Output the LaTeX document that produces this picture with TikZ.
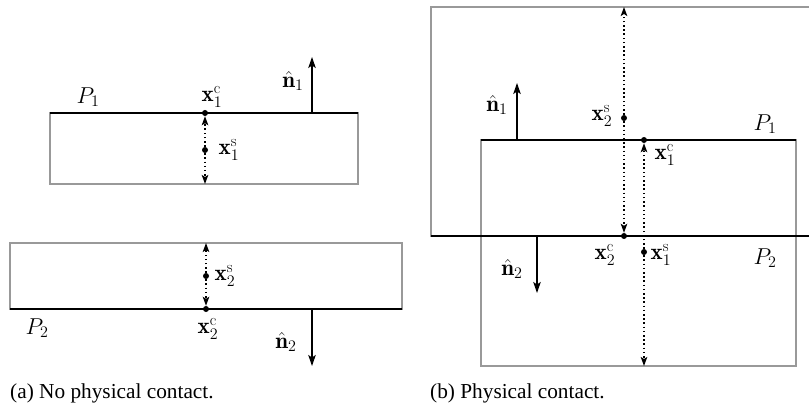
\RequirePackage{fix-cm}
\documentclass[tikz,border=0pt]{standalone}
\usepackage{fontspec}
\newfontfamily\capfont{Liberation Serif}
\usetikzlibrary{arrows.meta}
\begin{document}
\begin{tikzpicture}[x=1pt,y=-1pt,
  font=\fontsize{23}{27}\selectfont,
  edgeline/.style={line width=2.6pt, black},
  bodyline/.style={line width=1.8pt, black!40},
  normalarrow/.style={-{Stealth[length=11pt,width=7.5pt,inset=2.5pt]}, line width=1.4pt},
  dotarrow/.style={-{Stealth[length=9pt,width=6.5pt,inset=2pt]}, line width=1.5pt, dash pattern=on 1.5pt off 2.7pt},
  dotnode/.style={circle, fill=black, inner sep=0pt, minimum size=6pt},
  lab/.style={inner sep=0pt},
  captext/.style={inner sep=0pt, anchor=west, font=\capfont\fontsize{21.3}{25}\selectfont}]
\useasboundingbox (0,0) rectangle (809,409);
\clip (0,0) rectangle (809,409);

% ---------- (a) ----------
\draw[bodyline] (50,113) rectangle (358,184);
\draw[edgeline] (50,113) -- (358,113);
\draw[bodyline] (10,243) rectangle (402,309);
\draw[edgeline] (10,309) -- (402,309);

\node[dotnode] (ac1) at (205,113) {};
\node[dotnode] (as1) at (205,150) {};
\node[dotnode] (as2) at (206,276) {};
\node[dotnode] (ac2) at (206,309) {};
\coordinate (ab1) at (205,184);
\coordinate (at2) at (206,243);

\draw[dotarrow] (as1) -- (ac1);
\draw[dotarrow] (as1) -- (ab1);
\draw[dotarrow] (as2) -- (at2);
\draw[dotarrow] (as2) -- (ac2);

\coordinate (an1a) at (312,113);
\coordinate (an1b) at (312,57);
\draw[normalarrow] (an1a) -- (an1b);
\coordinate (an2a) at (312,309);
\coordinate (an2b) at (312,366);
\draw[normalarrow] (an2a) -- (an2b);

\node[lab] (aP1) at (88,97) {$P_1$};
\node[lab] (aP2) at (37,328) {$P_2$};
\node[lab] (axc1) at (212,97) {$\mathbf{x}_1^{\mathrm{c}}$};
\node[lab] (axs1) at (229,150) {$\mathbf{x}_1^{\mathrm{s}}$};
\node[lab] (axs2) at (225,276) {$\mathbf{x}_2^{\mathrm{s}}$};
\node[lab] (axc2) at (208,329) {$\mathbf{x}_2^{\mathrm{c}}$};
\node[lab] (an1) at (293,81) {$\hat{\mathbf{n}}_1$};
\node[lab] (an2) at (286,342) {$\hat{\mathbf{n}}_2$};
\node[captext] (capa) at (10,393) {(a) No physical contact.};

% ---------- (b) ----------
\draw[bodyline] (820,236) -- (431,236) -- (431,7) -- (820,7);
\draw[bodyline] (481,140) rectangle (796,366);
\draw[edgeline] (481,140) -- (796,140);
\draw[edgeline] (431,236) -- (820,236);

\node[dotnode] (bs2) at (624,118) {};
\node[dotnode] (bc2) at (624,236) {};
\node[dotnode] (bc1) at (644,140) {};
\node[dotnode] (bs1) at (644,252) {};
\coordinate (bt2) at (624,7);
\coordinate (bb1) at (644,366);

\draw[dotarrow] (bs2) -- (bt2);
\draw[dotarrow] (bs2) -- (bc2);
\draw[dotarrow] (bs1) -- (bc1);
\draw[dotarrow] (bs1) -- (bb1);

\coordinate (bn1a) at (517,140);
\coordinate (bn1b) at (517,83);
\draw[normalarrow] (bn1a) -- (bn1b);
\coordinate (bn2a) at (537,236);
\coordinate (bn2b) at (537,293);
\draw[normalarrow] (bn2a) -- (bn2b);

\node[lab] (bP1) at (765,124) {$P_1$};
\node[lab] (bP2) at (765,258) {$P_2$};
\node[lab] (bxs2) at (602,116) {$\mathbf{x}_2^{\mathrm{s}}$};
\node[lab] (bxc1) at (665,155) {$\mathbf{x}_1^{\mathrm{c}}$};
\node[lab] (bxc2) at (605,255) {$\mathbf{x}_2^{\mathrm{c}}$};
\node[lab] (bxs1) at (661,255) {$\mathbf{x}_1^{\mathrm{s}}$};
\node[lab] (bn1) at (497,105) {$\hat{\mathbf{n}}_1$};
\node[lab] (bn2) at (512,269) {$\hat{\mathbf{n}}_2$};
\node[captext] (capb) at (430,393) {(b) Physical contact.};
\end{tikzpicture}
\end{document}
